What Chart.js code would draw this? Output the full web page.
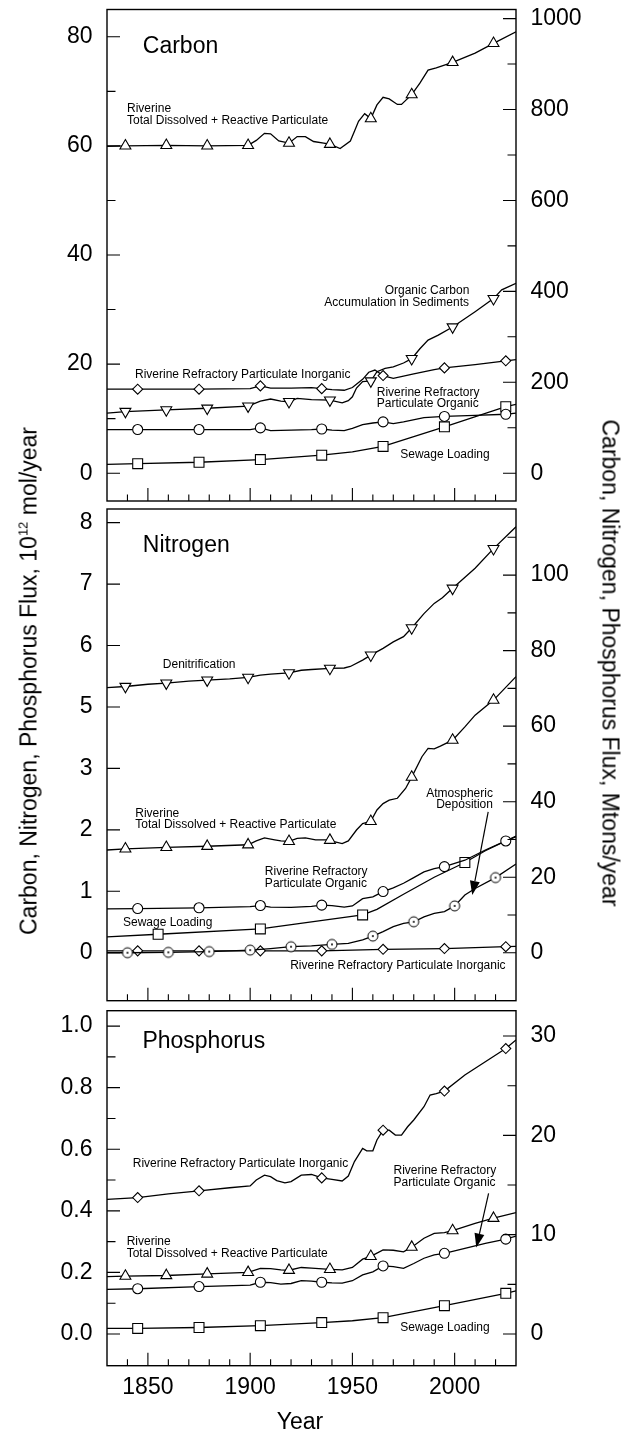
<!DOCTYPE html>
<html lang="en">
<head>
<meta charset="UTF-8">
<title>Carbon, Nitrogen, Phosphorus Flux</title>
<script src="https://cdn.jsdelivr.net/npm/chart.js@4.4.1/dist/chart.umd.min.js"></script>
<style>
    body { margin: 0; background: #fff; }
    #page { position: relative; width: 622px; height: 1435px; overflow: hidden; }
    canvas { position: absolute; left: 0; }
    .anchor { position: absolute; width: 0; height: 0; }
    .anchor span {
        position: absolute; white-space: nowrap; color: #000;
        font: 23px "Liberation Sans", Arial, sans-serif;
    }
</style>
</head>
<body>
<div id="page">
    <canvas id="carbon" width="622" height="506" style="top:0px"></canvas>
    <canvas id="nitrogen" width="622" height="500" style="top:505px"></canvas>
    <canvas id="phosphorus" width="622" height="430" style="top:1005px"></canvas>

    <!-- axis titles shared by the three panels -->
    <div class="anchor" style="left:29px; top:681px">
        <span style="transform: translate(-50%,-50%) rotate(-90deg)">Carbon, Nitrogen, Phosphorus Flux, 10<sup style="font-size:13px">12</sup> mol/year</span>
    </div>
    <div class="anchor" style="left:610px; top:663px">
        <span style="transform: translate(-50%,-50%) rotate(90deg)">Carbon, Nitrogen, Phosphorus Flux, Mtons/year</span>
    </div>
    <div class="anchor" style="left:300px; top:1421px">
        <span style="transform: translate(-50%,-50%)">Year</span>
    </div>
</div>

<script>
const FONT = '"Liberation Sans", Arial, sans-serif';

// years that carry a symbol on each curve
const marks20 = [1839, 1859, 1879, 1899, 1919, 1939, 1959, 1979, 1999, 2019];
const marks30 = [1845, 1875, 1905, 1935, 1965, 1995, 2025];
const marks50 = [1855, 1905, 1955, 2005];
const marksAtm = [1840, 1860, 1880, 1900, 1920, 1940, 1960, 1980, 2000, 2020];

// x axis
const xTickYears = [1850, 1900, 1950, 2000];
const xMinorYears = [1840, 1850, 1860, 1870, 1880, 1890, 1900, 1910, 1920, 1930,
                     1940, 1950, 1960, 1970, 1980, 1990, 2000, 2010, 2020];

// ---------------- Carbon, 10^12 mol/yr ----------------
const cRiverine = [[1830,59.9],[1839,60.0],[1859,60.1],[1879,60.0],[1899,60.1],[1903,61.0],[1907,62.3],
    [1910,62.2],[1914,60.9],[1919,60.5],[1923,61.7],[1927,61.7],[1931,60.8],[1936,60.5],[1939,60.3],
    [1944,59.5],[1949,60.9],[1951,62.7],[1953,64.5],[1956,65.9],[1959,65.0],[1962,67.5],[1965,68.9],
    [1968,68.6],[1972,67.6],[1974,67.6],[1979,69.4],[1983,71.5],[1987,73.9],[1991,74.3],[1999,75.3],
    [2010,77.0],[2019,78.8],[2030,80.9]];
const cRefInorg = [[1830,15.4],[1845,15.4],[1875,15.4],[1900,15.5],[1905,16.0],[1910,15.6],[1920,15.6],
    [1930,15.7],[1935,15.5],[1940,15.3],[1946,15.2],[1950,15.7],[1955,17.2],[1958,18.5],[1961,18.9],
    [1965,17.9],[1970,17.4],[1980,18.2],[1990,19.0],[1995,19.3],[2010,19.9],[2025,20.6],[2030,20.8]];
const cOrgAccum = [[1830,11.0],[1839,11.3],[1859,11.6],[1879,11.9],[1899,12.3],[1905,13.2],[1910,13.6],
    [1915,13.2],[1919,13.1],[1923,13.7],[1930,13.5],[1939,13.4],[1945,12.9],[1948,13.3],[1950,14.0],
    [1952,15.6],[1955,16.8],[1959,16.9],[1962,18.6],[1966,19.2],[1970,19.5],[1975,20.2],[1979,21.0],
    [1983,22.8],[1987,24.4],[1992,25.3],[1999,26.8],[2010,29.6],[2019,32.0],[2023,33.6],[2030,34.8]];
const cRefOrg = [[1830,8.0],[1845,8.0],[1875,8.0],[1900,8.0],[1905,8.3],[1910,7.8],[1920,7.9],[1930,8.0],
    [1935,8.1],[1940,7.9],[1946,7.8],[1950,8.2],[1955,8.9],[1960,9.2],[1965,9.4],[1970,9.1],[1975,9.4],
    [1985,10.2],[1995,10.4],[2010,10.6],[2025,10.8],[2030,11.0]];
const cSewage = [[1830,1.6],[1845,1.75],[1875,2.0],[1905,2.5],[1935,3.3],[1950,3.9],[1965,4.9],
    [1995,8.5],[2025,12.2],[2030,12.6]];

const cLeftTicks = [0, 20, 40, 60, 80];
const cLeftMinor = [10, 30, 50, 70];
const cRightTicks = [0, 200, 400, 600, 800, 1000];
const cRightMinor = [100, 300, 500, 700, 900];

// ---------------- Nitrogen, read in Mtons/yr (right axis) ----------------
const nDenitr = [[1830,70.2],[1839,70.5],[1850,71.1],[1859,71.4],[1870,71.9],[1879,72.2],[1890,72.5],
    [1899,72.9],[1905,73.5],[1910,73.8],[1919,74.1],[1925,74.8],[1930,75.0],[1939,75.3],[1946,75.4],
    [1949,75.8],[1955,77.5],[1959,78.8],[1965,80.6],[1970,82.3],[1975,83.7],[1979,86.0],[1985,89.8],
    [1990,92.5],[1994,94.0],[1999,96.5],[2010,101.8],[2019,107.0],[2030,112.8]];
const nRiverine = [[1830,27.2],[1839,27.5],[1859,27.9],[1879,28.2],[1899,28.6],[1903,29.6],[1907,30.4],
    [1912,29.9],[1915,29.6],[1919,29.5],[1923,30.3],[1927,30.4],[1932,29.9],[1937,29.9],[1939,29.8],
    [1941,29.4],[1945,28.9],[1948,29.6],[1952,32.5],[1955,34.2],[1959,34.8],[1962,37.8],[1965,39.5],
    [1968,40.4],[1972,40.9],[1976,43.5],[1979,46.5],[1984,51.9],[1987,54.1],[1990,54.0],[1993,54.7],
    [1999,56.3],[2005,59.8],[2010,62.9],[2019,66.9],[2030,73.1]];
const nRefOrg = [[1830,11.6],[1845,11.7],[1875,11.9],[1900,12.2],[1905,12.5],[1910,12.1],[1920,12.0],
    [1930,12.3],[1935,12.6],[1940,12.5],[1946,12.1],[1950,12.4],[1955,14.3],[1960,14.8],[1965,16.2],
    [1970,17.2],[1975,18.4],[1980,19.9],[1985,21.4],[1990,22.3],[1995,22.8],[2005,24.5],[2015,27.2],
    [2025,29.6],[2030,30.7]];
const nSewage = [[1830,4.2],[1855,4.9],[1905,6.3],[1955,10.0],[1962,11.5],[1975,15.5],[1990,20.0],
    [2005,23.9],[2015,27.0],[2030,30.9]];
const nAtmos = [[1830,0.0],[1840,0.0],[1860,0.1],[1880,0.3],[1900,0.7],[1910,1.1],[1920,1.6],[1930,1.8],
    [1940,2.2],[1948,2.5],[1955,3.4],[1960,4.4],[1965,5.6],[1970,6.9],[1975,7.8],[1980,8.2],[1985,9.5],
    [1990,10.4],[1995,10.9],[2000,12.4],[2005,15.3],[2010,17.0],[2020,19.9],[2030,23.5]];
const nRefInorg = [[1830,0.5],[1845,0.5],[1875,0.5],[1905,0.5],[1935,0.5],[1965,0.9],[1995,1.1],
    [2025,1.6],[2030,1.7]];

// the left axis of this panel is printed 0,1,2,3,5,6,7,8 on evenly spaced ticks
const nLeftLabels = ['0', '1', '2', '3', '5', '6', '7', '8'];
const nLeftTickPos = [0, 16.27, 32.54, 48.81, 65.08, 81.35, 97.62, 113.89];
const nRightTicks = [0, 20, 40, 60, 80, 100];
const nRightMinor = [10, 30, 50, 70, 90, 110];

// ---------------- Phosphorus, 10^12 mol/yr ----------------
const pRefInorg = [[1830,0.437],[1845,0.443],[1860,0.455],[1875,0.465],[1890,0.475],[1900,0.481],
    [1903,0.500],[1907,0.516],[1910,0.511],[1913,0.498],[1917,0.491],[1920,0.495],[1925,0.516],
    [1930,0.518],[1935,0.507],[1940,0.502],[1945,0.497],[1948,0.513],[1951,0.560],[1955,0.603],
    [1957,0.595],[1960,0.595],[1962,0.630],[1965,0.662],[1968,0.662],[1971,0.646],[1974,0.646],
    [1977,0.673],[1980,0.695],[1985,0.738],[1988,0.776],[1991,0.781],[1995,0.789],[2005,0.841],
    [2015,0.884],[2025,0.927],[2030,0.955]];
const pRiverine = [[1830,0.186],[1839,0.188],[1859,0.190],[1879,0.195],[1899,0.200],[1905,0.213],
    [1910,0.212],[1915,0.208],[1919,0.207],[1925,0.216],[1930,0.214],[1939,0.210],[1945,0.208],
    [1950,0.216],[1955,0.243],[1959,0.252],[1965,0.273],[1970,0.272],[1975,0.267],[1979,0.282],
    [1985,0.311],[1990,0.327],[1995,0.329],[1999,0.336],[2010,0.359],[2019,0.376],[2030,0.394]];
const pRefOrg = [[1830,0.145],[1845,0.147],[1875,0.154],[1900,0.159],[1905,0.168],[1910,0.167],
    [1915,0.162],[1920,0.164],[1925,0.173],[1930,0.172],[1935,0.168],[1940,0.166],[1945,0.165],
    [1950,0.173],[1955,0.192],[1960,0.202],[1965,0.221],[1970,0.219],[1975,0.213],[1980,0.229],
    [1985,0.246],[1990,0.257],[1995,0.262],[2005,0.278],[2015,0.294],[2025,0.308],[2030,0.318]];
const pSewage = [[1830,0.018],[1845,0.018],[1875,0.021],[1905,0.027],[1935,0.037],[1950,0.043],
    [1965,0.053],[1995,0.092],[2025,0.132],[2030,0.140]];

const pLeftTicks = [0, 0.2, 0.4, 0.6, 0.8, 1.0];
const pLeftMinor = [0.1, 0.3, 0.5, 0.7, 0.9];
const pRightTicks = [0, 10, 20, 30];
const pRightMinor = [5, 15, 25];

// labels written inside the panels (year, value on the panel's data axis)
const carbonNotes = [
    { t: 'Carbon', x: 1847.5, y: 78.2, big: true },
    { t: 'Riverine', x: 1839.8, y: 66.9 },
    { t: 'Total Dissolved + Reactive Particulate', x: 1839.8, y: 64.7 },
    { t: 'Organic Carbon', x: 2007.2, y: 33.4, align: 'right' },
    { t: 'Accumulation in Sediments', x: 2007.0, y: 31.3, align: 'right' },
    { t: 'Riverine Refractory Particulate Inorganic', x: 1843.7, y: 18.1 },
    { t: 'Riverine Refractory', x: 1961.9, y: 14.8 },
    { t: 'Particulate Organic', x: 1961.9, y: 12.7 },
    { t: 'Sewage Loading', x: 1973.4, y: 3.4 }
];
const nitrogenNotes = [
    { t: 'Nitrogen', x: 1847.5, y: 107.9, big: true },
    { t: 'Denitrification', x: 1857.3, y: 76.3 },
    { t: 'Riverine', x: 1843.8, y: 36.9 },
    { t: 'Total Dissolved + Reactive Particulate', x: 1843.8, y: 33.8 },
    { t: 'Atmospheric', x: 2018.7, y: 42.2, align: 'right' },
    { t: 'Deposition', x: 2018.7, y: 39.1, align: 'right' },
    { t: 'Riverine Refractory', x: 1907.2, y: 21.4 },
    { t: 'Particulate Organic', x: 1907.2, y: 18.4 },
    { t: 'Sewage Loading', x: 1837.8, y: 8.0 },
    { t: 'Riverine Refractory Particulate Inorganic', x: 2024.9, y: -3.3, align: 'right' }
];
const nitrogenArrows = [{ from: [2016.4, 37.3], to: [2008.6, 15.3] }];
const phosphorusNotes = [
    { t: 'Phosphorus', x: 1847.3, y: 0.949, big: true },
    { t: 'Riverine Refractory Particulate Inorganic', x: 1842.6, y: 0.554 },
    { t: 'Riverine Refractory', x: 1970.1, y: 0.529 },
    { t: 'Particulate Organic', x: 1970.1, y: 0.491 },
    { t: 'Riverine', x: 1839.6, y: 0.300 },
    { t: 'Total Dissolved + Reactive Particulate', x: 1839.6, y: 0.262 },
    { t: 'Sewage Loading', x: 1973.4, y: 0.021 }
];
const phosphorusArrows = [{ from: [2016.6, 0.457], to: [2010.6, 0.281] }];

Chart.defaults.font.family = FONT;
Chart.defaults.color = '#000';

// small circle with a dot in the middle (atmospheric deposition)
function dotCircle(r) {
    const c = document.createElement('canvas');
    const s = Math.ceil(2 * r + 4);
    c.width = c.height = s;
    const g = c.getContext('2d');
    g.lineWidth = 1;
    g.beginPath(); g.arc(s / 2, s / 2, r, 0, 2 * Math.PI);
    g.fillStyle = '#fff'; g.fill(); g.strokeStyle = '#000'; g.stroke();
    g.beginPath(); g.arc(s / 2, s / 2, 1, 0, 2 * Math.PI);
    g.fillStyle = '#000'; g.fill();
    return c;
}

const SYM = {
    up:     { style: 'triangle', r: 6.3, rot: 0 },
    down:   { style: 'triangle', r: 6.3, rot: 180 },
    circle: { style: 'circle', r: 5, rot: 0 },
    square: { style: 'rect', r: 7, rot: 0 },
    diamond:{ style: 'rectRot', r: 5, rot: 0 },
    dot:    { style: dotCircle(5), r: 5, rot: 0 }
};

function curve(pts, marks, sym, axis) {
    const s = SYM[sym];
    return {
        data: pts.map(p => ({ x: p[0], y: p[1] })),
        yAxisID: axis,
        borderColor: '#000',
        borderWidth: 1.3,
        tension: 0,
        fill: false,
        pointStyle: s.style,
        pointRotation: s.rot,
        pointRadius: c => (c.raw && marks.includes(c.raw.x)) ? s.r : 0,
        pointHoverRadius: 0,
        pointBackgroundColor: '#fff',
        pointBorderColor: '#000',
        pointBorderWidth: 1.1
    };
}

// frame, inward tick marks, text labels and arrows
function overlay(notes, arrows, leftMinor, rightMinor, noteAxis) {
    return {
        id: 'overlay',
        afterDatasetsDraw(chart) {
            const ctx = chart.ctx, a = chart.chartArea;
            const xs = chart.scales.x, yl = chart.scales.y, yr = chart.scales.yR;
            const yn = chart.scales[noteAxis];
            ctx.save();
            ctx.strokeStyle = '#000';
            ctx.lineWidth = 1.4;
            ctx.strokeRect(a.left, a.top, a.right - a.left, a.bottom - a.top);

            ctx.lineWidth = 1.1;
            ctx.beginPath();
            xMinorYears.forEach(v => {
                const x = xs.getPixelForValue(v);
                ctx.moveTo(x, a.bottom);
                ctx.lineTo(x, a.bottom - (xTickYears.includes(v) ? 13 : 6.5));
            });
            yl.ticks.forEach(t => {
                const y = yl.getPixelForValue(t.value);
                ctx.moveTo(a.left, y); ctx.lineTo(a.left + 13, y);
            });
            leftMinor.forEach(v => {
                const y = yl.getPixelForValue(v);
                ctx.moveTo(a.left, y); ctx.lineTo(a.left + 8.5, y);
            });
            yr.ticks.forEach(t => {
                const y = yr.getPixelForValue(t.value);
                ctx.moveTo(a.right, y); ctx.lineTo(a.right - 13, y);
            });
            rightMinor.forEach(v => {
                const y = yr.getPixelForValue(v);
                ctx.moveTo(a.right, y); ctx.lineTo(a.right - 8.5, y);
            });
            ctx.stroke();

            ctx.fillStyle = '#000';
            ctx.textBaseline = 'middle';
            notes.forEach(n => {
                ctx.font = (n.big ? '23px ' : '12px ') + FONT;
                ctx.textAlign = n.align || 'left';
                ctx.fillText(n.t, xs.getPixelForValue(n.x), yn.getPixelForValue(n.y));
            });

            arrows.forEach(ar => {
                const x1 = xs.getPixelForValue(ar.from[0]), y1 = yn.getPixelForValue(ar.from[1]);
                const x2 = xs.getPixelForValue(ar.to[0]), y2 = yn.getPixelForValue(ar.to[1]);
                const ang = Math.atan2(y2 - y1, x2 - x1);
                const len = 14, half = 5;
                const bx = x2 - Math.cos(ang) * len, by = y2 - Math.sin(ang) * len;
                ctx.lineWidth = 1.2;
                ctx.beginPath(); ctx.moveTo(x1, y1); ctx.lineTo(bx, by); ctx.stroke();
                ctx.beginPath();
                ctx.moveTo(x2, y2);
                ctx.lineTo(bx + Math.sin(ang) * half, by - Math.cos(ang) * half);
                ctx.lineTo(bx - Math.sin(ang) * half, by + Math.cos(ang) * half);
                ctx.closePath(); ctx.fill();
            });
            ctx.restore();
        }
    };
}

function yAxis(pos, min, max, ticks, fmt, width) {
    return {
        type: 'linear', position: pos, min: min, max: max,
        afterBuildTicks: s => { s.ticks = ticks.map(v => ({ value: v })); },
        afterFit: s => { s.width = width; s.paddingTop = 0; s.paddingBottom = 0; },
        ticks: { padding: 14.5, font: { size: 23 }, autoSkip: false, callback: fmt },
        grid: { display: false, drawTicks: false },
        border: { display: false }
    };
}

function panel(id, datasets, scaleY, scaleYR, showX, padding, plugin) {
    return new Chart(document.getElementById(id), {
        type: 'line',
        data: { datasets: datasets },
        options: {
            responsive: false,
            maintainAspectRatio: false,
            animation: false,
            events: [],
            layout: { padding: padding },
            plugins: { legend: { display: false }, tooltip: { enabled: false } },
            scales: {
                x: {
                    type: 'linear', min: 1830, max: 2030, display: showX,
                    afterBuildTicks: s => { s.ticks = xTickYears.map(v => ({ value: v })); },
                    afterFit: s => { s.height = showX ? 30 : 0; s.paddingLeft = 0; s.paddingRight = 0; },
                    ticks: { padding: 8, font: { size: 23 }, autoSkip: false, maxRotation: 0, callback: v => String(v) },
                    grid: { display: false, drawTicks: false },
                    border: { display: false }
                },
                y: scaleY,
                yR: scaleYR
            }
        },
        plugins: [plugin]
    });
}

// plot area spans x = 107 .. 516
const LEFT_W = 107, RIGHT_W = 622 - 516;

// Carbon panel: right axis in Mtons C = 12 x left
panel('carbon', [
        curve(cRiverine, marks20, 'up', 'y'),
        curve(cRefInorg, marks30, 'diamond', 'y'),
        curve(cOrgAccum, marks20, 'down', 'y'),
        curve(cRefOrg, marks30, 'circle', 'y'),
        curve(cSewage, marks30, 'square', 'y')
    ],
    yAxis('left', -5.1, 85.0, cLeftTicks, v => String(v), LEFT_W),
    yAxis('right', -5.1 * 12, 85.0 * 12, cRightTicks, v => String(v), RIGHT_W),
    false, { top: 9.5, bottom: 5, left: 0, right: 0 },
    overlay(carbonNotes, [], cLeftMinor, cRightMinor, 'y'));

// Nitrogen panel: curves drawn on the Mtons axis
panel('nitrogen', [
        curve(nDenitr, marks20, 'down', 'yR'),
        curve(nRiverine, marks20, 'up', 'yR'),
        curve(nRefOrg, marks30, 'circle', 'yR'),
        curve(nSewage, marks50, 'square', 'yR'),
        curve(nAtmos, marksAtm, 'dot', 'yR'),
        curve(nRefInorg, marks30, 'diamond', 'yR')
    ],
    yAxis('left', -12.7, 117.5, nLeftTickPos, v => nLeftLabels[nLeftTickPos.indexOf(v)], LEFT_W),
    yAxis('right', -12.7, 117.5, nRightTicks, v => String(v), RIGHT_W),
    false, { top: 4, bottom: 4.3, left: 0, right: 0 },
    overlay(nitrogenNotes, nitrogenArrows, [], nRightMinor, 'yR'));

// Phosphorus panel: right axis in Mtons P = 31 x left
panel('phosphorus', [
        curve(pRefInorg, marks30, 'diamond', 'y'),
        curve(pRiverine, marks20, 'up', 'y'),
        curve(pRefOrg, marks30, 'circle', 'y'),
        curve(pSewage, marks30, 'square', 'y')
    ],
    yAxis('left', -0.103, 1.05, pLeftTicks, v => v.toFixed(1), LEFT_W),
    yAxis('right', -0.103 * 31, 1.05 * 31, pRightTicks, v => String(v), RIGHT_W),
    true, { top: 5.7, bottom: 39.3, left: 0, right: 0 },
    overlay(phosphorusNotes, phosphorusArrows, pLeftMinor, pRightMinor, 'y'));
</script>
</body>
</html>
